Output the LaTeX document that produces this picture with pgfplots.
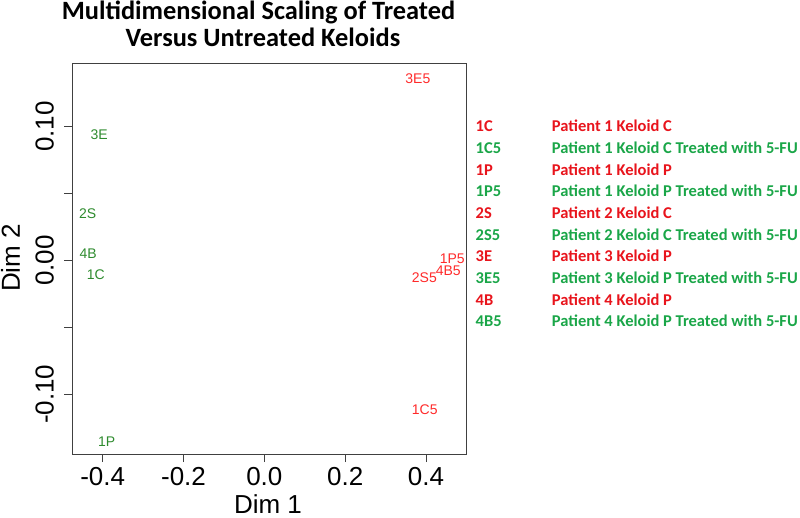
\documentclass[border=0pt]{standalone}
\usepackage{pgfplots}
\pgfplotsset{compat=1.18}
\usepackage{fontspec}
\setmainfont{Liberation Sans}
\newfontfamily\calibri{Carlito}
\definecolor{ptgreen}{HTML}{2E8B2E}
\definecolor{ptred}{HTML}{FF2A2A}
\definecolor{lgred}{HTML}{E8141C}
\definecolor{lggreen}{HTML}{1AA648}
\begin{document}
\begin{tikzpicture}[x=1pt,y=1pt]
\path[use as bounding box] (0,0) rectangle (800,517);
\begin{axis}[at={(72pt,63pt)}, anchor=south west, scale only axis,
  width=394pt, height=391pt,
  xmin=-0.476, xmax=0.499, ymin=-0.1446, ymax=0.1476,
  axis line style={black!75, line width=0.8pt},
  tick style={black!75, line width=0.8pt},
  tick align=outside, major tick length=8pt,
  xtick pos=bottom, ytick pos=left,
  xtick={-0.4,-0.2,0,0.2,0.4}, xticklabels={-0.4,-0.2,0.0,0.2,0.4},
  ytick={-0.1,-0.05,0,0.05,0.1}, yticklabels={-0.10,,0.00,,0.10},
  ticklabel style={font=\fontsize{26}{26}\selectfont},
  xticklabel style={anchor=north, inner sep=0pt, yshift=-5pt},
  yticklabel style={xshift=-10pt, rotate=90, anchor=south, inner sep=0pt},
  /pgf/number format/assume math mode=true,
  clip=false]
\addplot[only marks, mark=none, nodes near coords={\pgfplotspointmeta},
  point meta=explicit symbolic,
  every node near coord/.style={anchor=center, inner sep=0pt, text=ptgreen, font=\fontsize{14}{14}\selectfont}]
  table[meta=lab] {
x y lab
-0.409 0.0941 3E
-0.437 0.0351 2S
-0.436 0.0052 4B
-0.417 -0.0107 1C
-0.390 -0.1357 1P
};
\addplot[only marks, mark=none, nodes near coords={\pgfplotspointmeta},
  point meta=explicit symbolic,
  every node near coord/.style={anchor=center, inner sep=0pt, text=ptred, font=\fontsize{14}{14}\selectfont}]
  table[meta=lab] {
x y lab
0.380 0.1357 3E5
0.465 0.0010 1P5
0.455 -0.0075 4B5
0.396 -0.0125 2S5
0.397 -0.1113 1C5
};
\end{axis}
% title
\node[anchor=base, font=\calibri\bfseries\fontsize{26.4}{26.4}\selectfont] at (258.5,497.5) {Multidimensional Scaling of Treated};
\node[anchor=base, font=\calibri\bfseries\fontsize{26.4}{26.4}\selectfont] at (263,470.5) {Versus Untreated Keloids};
% axis labels
\node[anchor=base, font=\fontsize{26}{26}\selectfont, inner sep=0pt] at (268,4) {Dim 1};
\node[anchor=base, rotate=90, font=\fontsize{26}{26}\selectfont, inner sep=0pt] at (20,259) {Dim 2};
% legend
\foreach \c/\d/\col [count=\i] in {
  1C/Patient 1 Keloid C/lgred,
  1C5/Patient 1 Keloid C Treated with 5-FU/lggreen,
  1P/Patient 1 Keloid P/lgred,
  1P5/Patient 1 Keloid P Treated with 5-FU/lggreen,
  2S/Patient 2 Keloid C/lgred,
  2S5/Patient 2 Keloid C Treated with 5-FU/lggreen,
  3E/Patient 3 Keloid P/lgred,
  3E5/Patient 3 Keloid P Treated with 5-FU/lggreen,
  4B/Patient 4 Keloid P/lgred,
  4B5/Patient 4 Keloid P Treated with 5-FU/lggreen} {
  \pgfmathsetmacro{\yy}{517-131.7-(\i-1)*21.7}
  \node[anchor=base west, inner sep=0pt, text=\col, font=\calibri\bfseries\fontsize{16.5}{16.5}\selectfont] at (475.5,\yy) {\c};
  \node[anchor=base west, inner sep=0pt, text=\col, font=\calibri\bfseries\fontsize{16.5}{16.5}\selectfont] at (551.7,\yy) {\d};
}
\end{tikzpicture}
\end{document}
